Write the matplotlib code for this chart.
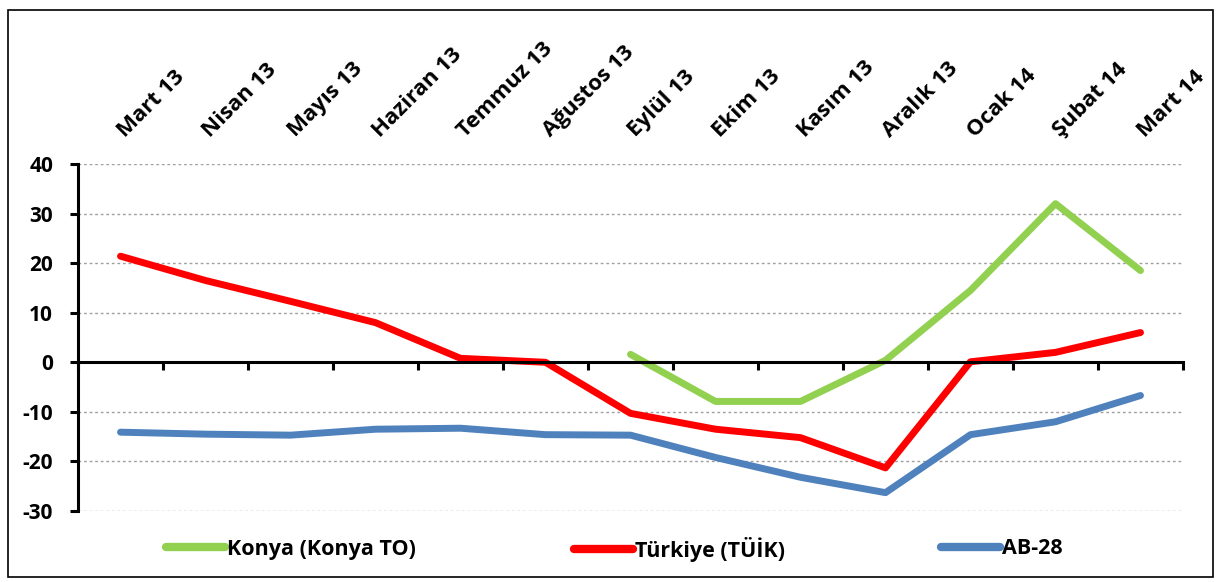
import matplotlib
matplotlib.use("Agg")
import matplotlib.pyplot as plt
from matplotlib.patches import Rectangle
import numpy as np

months = ["Mart 13", "Nisan 13", "Mayıs 13", "Haziran 13", "Temmuz 13", "Ağustos 13",
          "Eylül 13", "Ekim 13", "Kasım 13", "Aralık 13", "Ocak 14", "Şubat 14", "Mart 14"]
konya = [None, None, None, None, None, None, 1.6, -7.9, -7.9, 0.4, 14.5, 32.0, 18.5]
turkiye = [21.4, 16.5, 12.3, 8.0, 0.8, 0.0, -10.3, -13.5, -15.2, -21.3, 0.1, 2.0, 6.0]
ab28 = [-14.1, -14.5, -14.7, -13.5, -13.3, -14.6, -14.7, -19.2, -23.2, -26.3, -14.6, -12.0, -6.7]
yticks = [-30, -20, -10, 0, 10, 20, 30, 40]

FONT = "Open Sans"
plt.rcParams['font.family'] = [FONT, 'DejaVu Sans']

fig = plt.figure(figsize=(12.18, 5.82), dpi=100)
ax = fig.add_axes([78/1218, 1-511/582, (1183-78)/1218, (511-164)/582])

x = np.arange(len(months))
def arr(v):
    return np.array([np.nan if a is None else a for a in v], dtype=float)

kw = dict(lw=5, solid_capstyle="round", solid_joinstyle="round")
l1, = ax.plot(x, arr(konya), color="#92D050", label="Konya (Konya TO)", **kw)
l2, = ax.plot(x, arr(turkiye), color="#FF0000", label="Türkiye (TÜİK)", **kw)
l3, = ax.plot(x, arr(ab28), color="#4F81BD", label="AB-28", **kw)

ax.set_xlim(-0.5, len(months) - 0.5)
ax.set_ylim(-30, 40)
ax.set_yticks(yticks)
ax.set_yticklabels([str(t) for t in yticks], fontsize=15, fontweight="bold")
for t in yticks:
    if t != 0:
        ax.axhline(t, color="#A0A0A0", lw=1, ls=(0, (2, 2)), zorder=0)

for s in ["top", "right"]:
    ax.spines[s].set_visible(False)
ax.spines["bottom"].set_position(("data", 0))
ax.spines["bottom"].set_linewidth(2.2)
ax.spines["left"].set_linewidth(2.2)
ax.tick_params(axis="y", direction="out", length=6, width=2.2, pad=12)
ax.set_xticks(np.arange(-0.5, len(months)))
ax.set_xticklabels([])
ax.tick_params(axis="x", direction="out", length=6, width=2.2)

for i, m in enumerate(months):
    ax.text(i + 0.1, 44.6, m, rotation=45, rotation_mode="anchor", ha="left", va="bottom",
            fontsize=16, fontweight="bold", clip_on=False)

positions = [(166/1218, 1-549/582), (574/1218, 1-549/582), (941/1218, 1-549/582)]
for ln, pos in zip([l1, l2, l3], positions):
    lg = fig.legend(handles=[ln], loc="center left", bbox_to_anchor=pos, frameon=False,
                    handlelength=2.75, handletextpad=0.1, borderpad=0, borderaxespad=0,
                    prop={"family": FONT, "weight": "bold", "size": 15.5})
    for h in lg.legend_handles:
        h.set_linewidth(6)

fig.patches.append(Rectangle((8/1218, 5/582), (1213-8)/1218, (572-5)/582, transform=fig.transFigure,
                             fill=False, edgecolor="black", lw=1.2))

fig.savefig("out.png", dpi=100)
